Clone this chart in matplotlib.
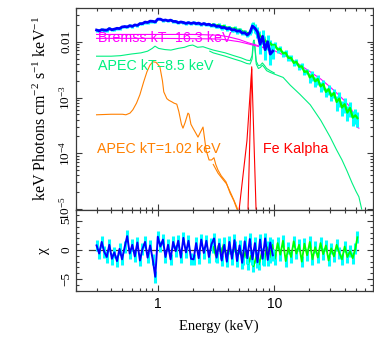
import matplotlib
matplotlib.use("Agg")
import matplotlib.pyplot as plt
from matplotlib.ticker import FixedLocator, FixedFormatter, LogLocator, MultipleLocator, NullFormatter

plt.rcParams['mathtext.fontset'] = 'custom'
plt.rcParams['mathtext.rm'] = 'Liberation Serif'
plt.rcParams['mathtext.it'] = 'Liberation Serif:italic'
plt.rcParams['mathtext.bf'] = 'Liberation Serif:bold'
plt.rcParams['font.family'] = ['Liberation Serif', 'DejaVu Serif']

# ---------------- data: instrument 1 (blue) ----------------
blue_E = [0.300, 0.316, 0.332, 0.349, 0.367, 0.386, 0.406, 0.426, 0.449, 0.472,
          0.496, 0.522, 0.549, 0.577, 0.607, 0.638, 0.671, 0.706, 0.742, 0.781,
          0.821, 0.863, 0.908, 0.955, 1.004, 1.056, 1.111, 1.168, 1.229, 1.292,
          1.359, 1.429, 1.503, 1.581, 1.663, 1.749, 1.839, 1.934, 2.034, 2.139,
          2.250, 2.366, 2.489, 2.617, 2.753, 2.895, 3.045, 3.202, 3.368, 3.542,
          3.725, 3.918, 4.120, 4.333, 4.557, 4.793, 5.041, 5.301, 5.575, 5.864,
          6.167, 6.486, 6.821, 7.173, 7.544, 7.934, 8.344, 8.776, 9.229, 9.706]
blue_flux = [0.0162, 0.0157, 0.0164, 0.0162, 0.0161, 0.0172, 0.0164, 0.0168, 0.0174, 0.0172,
             0.0184, 0.0187, 0.0184, 0.0194, 0.0188, 0.0200, 0.0196, 0.0211, 0.0211, 0.0225,
             0.0221, 0.0234, 0.0232, 0.0226, 0.0254, 0.0254, 0.0241, 0.0245, 0.0237, 0.0244,
             0.0231, 0.0231, 0.0219, 0.0226, 0.0221, 0.0213, 0.0220, 0.0212, 0.0219, 0.0211,
             0.0216, 0.0204, 0.0212, 0.0202, 0.0206, 0.0195, 0.0200, 0.0187, 0.0191, 0.0178,
             0.0181, 0.0170, 0.0175, 0.0162, 0.0165, 0.0154, 0.0157, 0.0143, 0.0145, 0.0132,
             0.0145, 0.0191, 0.0174, 0.0150, 0.0090, 0.0125, 0.0072, 0.0100, 0.0060, 0.0068]
blue_err = [0.0010, 0.0010, 0.0010, 0.0010, 0.0010, 0.0010, 0.0010, 0.0010, 0.0010, 0.0010,
            0.0011, 0.0011, 0.0011, 0.0011, 0.0011, 0.0011, 0.0011, 0.0013, 0.0013, 0.0013,
            0.0013, 0.0013, 0.0013, 0.0013, 0.0013, 0.0013, 0.0013, 0.0013, 0.0013, 0.0013,
            0.0013, 0.0013, 0.0013, 0.0013, 0.0013, 0.0013, 0.0013, 0.0013, 0.0013, 0.0013,
            0.0013, 0.0013, 0.0013, 0.0013, 0.0013, 0.0013, 0.0014, 0.0014, 0.0014, 0.0014,
            0.0014, 0.0014, 0.0014, 0.0014, 0.0014, 0.0014, 0.0013, 0.0013, 0.0013, 0.0013,
            0.0013, 0.0028, 0.0030, 0.0035, 0.0030, 0.0035, 0.0025, 0.0030, 0.0022, 0.0020]
blue_chi = [0.8, -0.6, 1.4, -0.3, -1.2, 0.9, -1.5, -0.4, -1.9, 0.2,
            -1.6, 0.5, 2.4, -0.6, 0.9, -1.1, 1.3, -1.8, 0.2, 1.4,
            -1.3, 0.8, -1.6, -4.6, 2.3, 0.6, 1.8, -1.2, 0.9, -1.6,
            1.4, -0.2, 1.6, -1.3, 2.1, -0.4, 1.6, -1.5, -1.6, 1.2,
            -1.4, 1.8, -0.5, 1.6, -1.2, 1.0, 2.0, -1.3, 1.1, -1.8,
            0.9, -2.0, 1.4, -1.5, 1.7, -1.9, 0.8, -2.2, 1.5, -1.4,
            1.9, -1.6, 1.2, -2.1, 1.8, -1.5, 2.0, -1.7, 1.3, -0.9]

# ---------------- data: instrument 2 (green) ----------------
green_E = [3.00, 3.16, 3.33, 3.51, 3.70, 3.91, 4.12, 4.34, 4.58, 4.83,
           5.09, 5.37, 5.66, 5.97, 6.29, 6.63, 6.99, 7.37, 7.77, 8.19,
           8.64, 9.11, 9.60, 10.12, 10.67, 11.25, 11.86, 12.51, 13.19, 13.90,
           14.66, 15.45, 16.29, 17.18, 18.11, 19.09, 20.13, 21.22, 22.38, 23.59,
           24.87, 26.22, 27.65, 29.15, 30.73, 32.40, 34.16, 36.02, 37.97, 40.03,
           42.21, 44.50, 46.92, 49.47, 51.50]
green_flux = [0.0204, 0.0193, 0.0200, 0.0187, 0.0191, 0.0177, 0.0181, 0.0170, 0.0174, 0.0162,
              0.0165, 0.0151, 0.0151, 0.0138, 0.0155, 0.0204, 0.0155, 0.0138, 0.0112, 0.0112,
              0.00955, 0.00966, 0.00861, 0.00871, 0.00724, 0.00741, 0.00617, 0.00631, 0.00513, 0.00513,
              0.00417, 0.00437, 0.00355, 0.00363, 0.00288, 0.00295, 0.00229, 0.00251, 0.00195, 0.00214,
              0.00158, 0.00174, 0.00126, 0.00141, 0.00107, 0.00120, 0.000832, 0.000955, 0.000661, 0.000759,
              0.000537, 0.000646, 0.000437, 0.000479, 0.000427]
green_err = [0.0016, 0.0015, 0.0016, 0.0015, 0.0015, 0.0014, 0.0014, 0.0014, 0.0014, 0.0013,
             0.0013, 0.0012, 0.0012, 0.0011, 0.0012, 0.0024, 0.0019, 0.0017, 0.0013, 0.0013,
             0.0011, 0.0012, 0.0010, 0.0010, 0.00087, 0.00089, 0.00074, 0.00076, 0.00062, 0.00062,
             0.00050, 0.00052, 0.00043, 0.00044, 0.00035, 0.00035, 0.00046, 0.00050, 0.00039, 0.00043,
             0.00032, 0.00035, 0.00025, 0.00028, 0.00021, 0.00024, 0.00025, 0.00029, 0.00020, 0.00023,
             0.00016, 0.00019, 0.00013, 0.00014, 0.00013]
green_chi = [0.5, -1.0, 0.8, -0.5, 1.2, -1.4, 0.3, -0.9, 0.6, -1.2,
             0.4, -1.6, -0.3, -2.4, -1.0, -2.8, -1.2, -2.5, -0.6, -1.8,
             0.5, -1.3, 0.9, -1.5, 1.2, -0.8, 1.6, -1.9, 0.4, -1.2,
             1.5, -0.6, 0.9, -2.0, 1.1, -0.9, 1.4, -1.6, 0.5, -1.3,
             1.2, -0.7, 0.8, -1.8, 0.3, -1.1, 0.9, -0.5, -1.6, 0.6,
             -1.2, -0.2, -1.4, 0.3, 2.2]

# ---------------- model components ----------------
brems1_E = [0.30, 0.50, 1.0, 1.5, 2.0, 2.5, 3.0, 3.5, 4.0, 5.0, 6.0, 7.0, 8.0, 9.0, 10.0]
brems1_F = [0.0135, 0.0135, 0.0135, 0.0135, 0.0135, 0.01334, 0.01318, 0.01288, 0.0123,
            0.01096, 0.00955, 0.00871, 0.00794, 0.00741, 0.00692]
brems2_E = [0.30, 0.50, 1.0, 2.0, 3.0, 3.5, 4.0, 5.0, 6.0, 7.0, 8.0, 10.0, 13.7, 20.0,
            25.0, 30.0, 35.0, 40.0, 45.0, 48.0, 51.0, 53.0]
brems2_F = [0.01148, 0.01148, 0.01148, 0.01135, 0.01122, 0.01109, 0.01072, 0.0100, 0.00912,
            0.00841, 0.00785, 0.00692, 0.00501, 0.00295, 0.00214, 0.00155, 0.00115, 0.000871,
            0.000661, 0.000501, 0.000295, 0.000282]

apec85a_E = [0.30, 0.40, 0.48, 0.60, 0.72, 0.82, 0.90, 0.95, 1.02, 1.15, 1.30, 1.50, 1.70,
             1.86, 2.0, 2.2, 2.45, 2.7, 3.0, 3.8, 4.5, 5.2, 5.8, 6.2, 6.45, 6.6, 6.7, 6.8,
             7.0, 7.3, 7.6, 7.9, 8.2, 8.6, 9.2, 10.0]
apec85a_F = [0.00550, 0.00550, 0.00562, 0.00603, 0.00631, 0.00676, 0.00759, 0.00832, 0.00759,
             0.00724, 0.00708, 0.00759, 0.00794, 0.00851, 0.00871, 0.00794, 0.00813, 0.00759,
             0.00708, 0.00631, 0.00562, 0.00513, 0.00468, 0.00457, 0.00562, 0.0100, 0.01072,
             0.00891, 0.00447, 0.00372, 0.00380, 0.00417, 0.00380, 0.00331, 0.00302, 0.00275]
apec85b_E = [2.8, 3.0, 3.8, 4.5, 5.2, 5.8, 6.2, 6.45, 6.6, 6.7, 6.8, 7.0, 7.3, 7.6, 7.9, 8.2,
             8.6, 9.2, 10.0, 11.9, 13.7, 16.5, 20.3, 25.0, 30.1, 34.0, 38.0, 42.0, 46.3, 50.0,
             53.0, 56.0]
apec85b_F = [0.00676, 0.00631, 0.00550, 0.00490, 0.00447, 0.00407, 0.00398, 0.00490, 0.00871,
             0.00955, 0.00794, 0.00398, 0.00331, 0.00347, 0.00380, 0.00347, 0.00302, 0.00282,
             0.00263, 0.00229, 0.00166, 0.00115, 0.000741, 0.000389, 0.000195, 0.000117,
             7.59e-05, 4.79e-05, 2.95e-05, 2.09e-05, 1.66e-05, 1.0e-05]

apec102a_E = [0.30, 0.40, 0.50, 0.535, 0.58, 0.614, 0.66, 0.705, 0.76, 0.81, 0.86, 0.911,
              0.97, 1.046, 1.10, 1.13, 1.20, 1.25, 1.33, 1.38, 1.46, 1.52, 1.60, 1.65, 1.72,
              1.82, 1.86, 1.93, 2.01, 2.10, 2.22, 2.33, 2.45, 2.52, 2.60, 2.76, 2.90, 3.04,
              3.15, 3.29, 3.5, 3.85, 4.17, 4.5, 4.78]
apec102a_F = [4.90e-04, 5.01e-04, 5.01e-04, 4.90e-04, 5.25e-04, 6.03e-04, 7.94e-04, 1.12e-03,
              1.91e-03, 2.88e-03, 3.80e-03, 4.37e-03, 4.27e-03, 3.55e-03, 2.00e-03, 1.26e-03,
              9.55e-04, 8.91e-04, 8.32e-04, 7.94e-04, 7.59e-04, 5.62e-04, 3.31e-04, 2.82e-04,
              3.55e-04, 5.25e-04, 5.01e-04, 3.31e-04, 2.82e-04, 2.40e-04, 1.95e-04, 2.40e-04,
              2.95e-04, 1.91e-04, 1.15e-04, 7.59e-05, 7.59e-05, 8.32e-05, 6.31e-05, 5.01e-05,
              3.98e-05, 3.09e-05, 1.95e-05, 1.41e-05, 1.0e-05]
apec102b_E = [3.0, 3.3, 3.6, 3.9, 4.2, 4.5, 4.8, 5.0]
apec102b_F = [6.31e-05, 4.37e-05, 3.47e-05, 2.82e-05, 2.00e-05, 1.45e-05, 1.05e-05, 7.9e-06]

feka_a_E = [5.95, 6.40, 6.97]
feka_a_F = [1.0e-05, 3.55e-03, 1.0e-05]
feka_b_E = [5.00, 5.83, 6.40]
feka_b_F = [1.0e-05, 1.70e-04, 3.2e-03]

zero_E = [0.26, 52.0]
zero_chi = [0.0, 0.0]

labels = ["Bremss kT=16.3 keV", "APEC kT=8.5 keV", "APEC kT=1.02 keV", "Fe Kalpha"]

# ---------------- colours ----------------
C_BLUE = '#0000ff'
C_CYAN = '#00ffff'
C_GREEN = '#00ff00'
C_APEC = '#00f080'
C_MAG = '#ff00ff'
C_ORANGE = '#ff8000'
C_RED = '#ff0000'
C_AX = '#3a3a3a'

fig = plt.figure(figsize=(3.74, 3.59), dpi=100)
ax1 = fig.add_axes([0.2032, 0.4159, 0.7941, 0.5618])
ax2 = fig.add_axes([0.2032, 0.1894, 0.7941, 0.2265], sharex=ax1)

lw = 0.8
# models
ax1.plot(apec85a_E, apec85a_F, color=C_APEC, lw=lw)
ax1.plot(apec85b_E, apec85b_F, color=C_APEC, lw=lw)
ax1.plot(brems1_E, brems1_F, color=C_MAG, lw=lw)
ax1.plot(brems2_E, brems2_F, color=C_MAG, lw=lw)
ax1.plot(apec102a_E, apec102a_F, color=C_ORANGE, lw=lw)
ax1.plot(apec102b_E, apec102b_F, color=C_ORANGE, lw=lw)
ax1.plot(feka_a_E, feka_a_F, color=C_RED, lw=lw)
ax1.plot(feka_b_E, feka_b_F, color=C_RED, lw=lw)

# data
ax1.errorbar(green_E, green_flux, yerr=green_err, fmt='none', ecolor=C_CYAN, elinewidth=2.2)
ax1.plot(green_E, green_flux, color=C_GREEN, lw=1.6)
ax1.errorbar(blue_E, blue_flux, yerr=blue_err, fmt='none', ecolor=C_CYAN, elinewidth=2.2)
ax1.plot(blue_E, blue_flux, color=C_BLUE, lw=2.0)

tfont = dict(family=['Liberation Sans', 'DejaVu Sans'], fontsize=10.3)
ax1.text(0.073, 0.851, labels[0], color=C_MAG, transform=ax1.transAxes, ha='left', va='center', **tfont)
ax1.text(0.073, 0.712, labels[1], color=C_APEC, transform=ax1.transAxes, ha='left', va='center', **tfont)
ax1.text(0.070, 0.301, labels[2], color=C_ORANGE, transform=ax1.transAxes, ha='left', va='center', **tfont)
ax1.text(0.630, 0.301, labels[3], color=C_RED, transform=ax1.transAxes, ha='left', va='center', **tfont)

# residuals
ax2.plot(zero_E, zero_chi, color=C_AX, lw=0.9)
ax2.errorbar(green_E, green_chi, yerr=1.0, fmt='none', ecolor=C_CYAN, elinewidth=2.2)
ax2.plot(green_E, green_chi, color=C_GREEN, lw=1.3)
ax2.errorbar(blue_E, blue_chi, yerr=1.0, fmt='none', ecolor=C_CYAN, elinewidth=2.2)
ax2.plot(blue_E, blue_chi, color=C_BLUE, lw=1.4)

# axes setup
for ax in (ax1, ax2):
    ax.set_xscale('log')
    ax.set_xlim(0.2, 70)
    ax.xaxis.set_major_locator(FixedLocator([1, 10]))
    ax.xaxis.set_minor_locator(LogLocator(base=10, subs=[2, 3, 4, 5, 6, 7, 8, 9]))
    ax.xaxis.set_minor_formatter(NullFormatter())
    ax.tick_params(which='both', direction='in', top=True, right=True, color=C_AX, width=0.8)
    ax.tick_params(which='major', length=4.5)
    ax.tick_params(which='minor', length=2.5)
    for s in ax.spines.values():
        s.set_color(C_AX)
        s.set_linewidth(0.9)

ax1.set_yscale('log')
ax1.set_ylim(0.975e-5, 0.0402)
ax1.yaxis.set_major_locator(FixedLocator([1e-5, 1e-4, 1e-3, 1e-2]))
ax1.yaxis.set_major_formatter(FixedFormatter([r'$10^{-5}$', r'$10^{-4}$', r'$10^{-3}$', '0.01']))
ax1.yaxis.set_minor_locator(LogLocator(base=10, subs=[2, 3, 4, 5, 6, 7, 8, 9]))
ax1.yaxis.set_minor_formatter(NullFormatter())
ax1.tick_params(axis='x', labelbottom=False)

ax2.set_ylim(-7.05, 6.95)
ax2.yaxis.set_major_locator(FixedLocator([-5, 0, 5]))
ax2.yaxis.set_major_formatter(FixedFormatter(['\u22125', '0', '5']))
ax2.yaxis.set_minor_locator(MultipleLocator(1))
ax2.xaxis.set_major_formatter(FixedFormatter(['1', '10']))

for ax in (ax1, ax2):
    ax.tick_params(axis='y', labelsize=9.5, pad=2.5)
    for lbl in ax.get_yticklabels():
        lbl.set_rotation(90)
        lbl.set_va('center')
for lbl in ax2.get_xticklabels():
    lbl.set_family(['Liberation Sans', 'DejaVu Sans'])
    lbl.set_fontsize(10)
ax2.tick_params(axis='x', pad=4)

ax1.set_ylabel(r'keV Photons cm$^{-2}$ s$^{-1}$ keV$^{-1}$', fontsize=11.5)
ax1.yaxis.set_label_coords(-0.088, 0.5)
ax2.set_ylabel('\u03c7', fontsize=11)
ax2.yaxis.set_label_coords(-0.088, 0.5)
ax2.set_xlabel('Energy (keV)', fontsize=10.5)
ax2.xaxis.set_label_coords(0.481, -0.345)

fig.savefig('out.png', dpi=100)
